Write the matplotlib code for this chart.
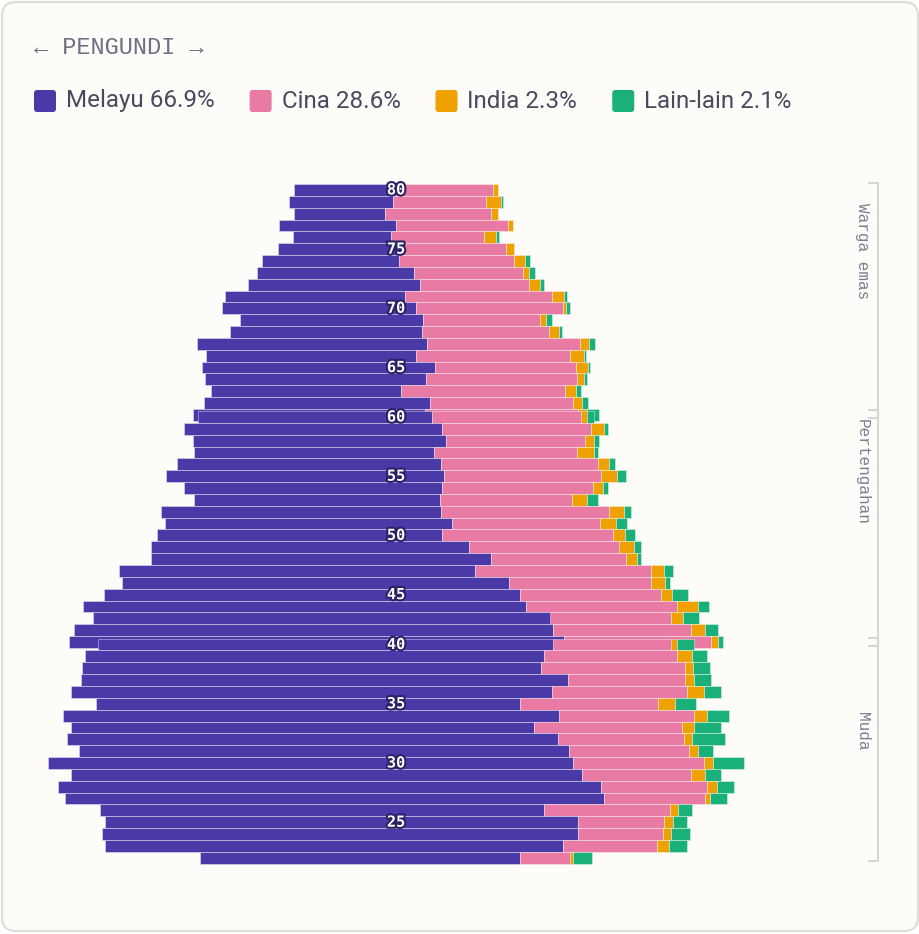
import matplotlib
matplotlib.use("Agg")
import matplotlib.pyplot as plt
import matplotlib.patheffects as pe
from matplotlib.patches import FancyBboxPatch

# umur pengundi, dari atas ke bawah
ages = list(range(80, 21, -1))

# lebar segmen setiap baris
melayu = [99.7, 104.0, 91.6, 117.0, 98.3, 121.0, 137.0, 157.6, 172.0, 179.7,
          194.0, 182.7, 192.0, 229.4, 210.3, 233.3, 221.3, 190.3, 226.0, 232.0,
          233.7, 258.3, 253.3, 240.3, 264.3, 278.3, 257.7, 246.6, 279.7, 287.3,
          285.6, 318.0, 340.3, 356.5, 387.3, 415.8, 443.2, 457.7, 478.6, 494.9,
          454.8, 458.6, 459.5, 487.0, 480.9, 424.2, 495.8, 463.2, 491.1, 489.3,
          524.6, 511.1, 542.8, 539.1, 444.1, 472.6, 475.8, 458.0, 319.8]
cina = [99.3, 93.3, 106.0, 112.0, 93.3, 107.3, 115.3, 109.0, 109.0, 147.3,
        147.0, 116.7, 127.6, 153.6, 154.0, 141.0, 150.7, 164.0, 142.7, 153.3,
        149.0, 148.4, 139.3, 143.3, 156.7, 157.3, 151.3, 132.0, 168.0, 147.4,
        170.4, 149.7, 135.5, 176.5, 142.0, 141.5, 150.8, 121.0, 138.8, 146.6,
        118.7, 133.1, 143.4, 117.3, 135.5, 137.8, 135.0, 148.0, 125.7, 120.6,
        131.8, 108.5, 105.7, 100.6, 125.7, 85.6, 85.6, 93.6, 49.4]
india = [4.7, 14.7, 7.0, 4.4, 11.4, 7.7, 10.4, 5.4, 11.0, 11.4,
         3.3, 6.6, 9.7, 9.0, 14.0, 12.0, 7.3, 11.0, 9.3, 8.7,
         6.0, 13.3, 8.7, 16.7, 11.0, 15.4, 10.0, 14.4, 14.7, 16.6,
         12.3, 15.0, 10.2, 12.5, 13.5, 11.2, 21.4, 11.2, 13.4, 7.0,
         5.6, 14.5, 8.4, 8.4, 16.7, 17.2, 13.5, 12.1, 8.9, 8.4,
         8.8, 14.4, 10.3, 5.6, 7.5, 9.8, 7.9, 12.1, 3.2]
lain = [0.0, 2.8, 0.0, 0.0, 3.8, 0.0, 5.3, 6.6, 3.2, 3.0,
        4.5, 5.2, 3.3, 5.4, 2.3, 2.3, 3.3, 5.3, 6.0, 12.0,
        7.3, 4.0, 5.3, 4.3, 6.8, 9.8, 4.7, 11.8, 7.3, 10.7,
        10.5, 6.7, 4.9, 9.5, 5.0, 15.5, 10.5, 16.5, 13.0, 5.2,
        16.9, 15.0, 17.3, 17.0, 16.9, 21.7, 21.6, 26.7, 32.8, 15.2,
        30.6, 16.0, 16.3, 17.0, 14.2, 13.3, 18.5, 18.3, 18.8]

series = [melayu, cina, india, lain]
legend_labels = ["Melayu 66.9%", "Cina 28.6%", "India 2.3%", "Lain-lain 2.1%"]
colors = ["#4a3aa8", "#e87aa4", "#eea100", "#1ab07a"]

groups = ["Warga emas", "Pertengahan", "Muda"]
group_ages = [(80, 61), (60, 41), (40, 22)]
group_shift = [0.0, -0.82, -1.6]      # kumpulan sedikit bertindih
label_offset = [1.6, 0.7, 6.2]        # kedudukan teks kumpulan

W, H = 920, 934
CX = 396          # paksi tengah piramid (px)
TOP = 184         # bahagian atas baris pertama (px)
ROW = 11.84       # tinggi satu baris (px)

fig = plt.figure(figsize=(W / 100, H / 100), dpi=100)
fig.patch.set_facecolor("white")

# lapisan latar: kad, tajuk, petunjuk (unit piksel)
bg = fig.add_axes([0, 0, 1, 1])
bg.set_xlim(0, W)
bg.set_ylim(H, 0)
bg.axis("off")
card = FancyBboxPatch((2, 2), W - 4, H - 5,
                      boxstyle="round,pad=0,rounding_size=14",
                      facecolor="#fdfcf8", edgecolor="#dedfd8", linewidth=1.6)
bg.add_patch(card)

bg.text(34, 47, "← PENGUNDI →", family="Liberation Mono", fontsize=17,
        color="#6b7083", ha="left", va="center")

renderer = fig.canvas.get_renderer()
x = 34
for lab, col in zip(legend_labels, colors):
    bg.add_patch(FancyBboxPatch((x, 90), 22, 22,
                                boxstyle="round,pad=0,rounding_size=3",
                                facecolor=col, edgecolor="none"))
    t = bg.text(x + 32, 101, lab, family="Roboto", fontsize=17.4,
                color="#464b5f", ha="left", va="center")
    bb = t.get_window_extent(renderer)
    x = bb.x1 + 35

# lapisan bar
ax = fig.add_axes([0, 0, 1, 1])
ax.set_xlim(-CX, W - CX)
ax.set_ylim((H - TOP) / ROW, -TOP / ROW)
ax.axis("off")
ax.patch.set_alpha(0)


def row_pos(age):
    for (a0, a1), s in zip(group_ages, group_shift):
        if a1 <= age <= a0:
            return (80 - age) + s


z = 2
for i, age in enumerate(ages):
    vals = [s[i] for s in series]
    total = sum(vals)
    left = -total / 2
    p = row_pos(age)
    for v, c in zip(vals, colors):
        if v > 0:
            ax.barh(p, v, left=left, height=1.0, align="edge", color=c,
                    edgecolor=(1, 1, 1, 0.45), linewidth=0.6, zorder=z)
        left += v
    z += 1

for age in range(80, 24, -5):
    ax.text(0, row_pos(age) + 0.5, str(age), ha="center", va="center",
            color="white", fontweight="bold", family="DejaVu Sans Mono",
            fontsize=11, zorder=200,
            path_effects=[pe.withStroke(linewidth=3, foreground="#2b2266")])

# kurungan kumpulan di kanan
bx = 878 - CX
for name, (a0, a1), off in zip(groups, group_ages, label_offset):
    top = row_pos(a0) - 0.05
    bot = row_pos(a1) + 0.8
    ax.plot([bx - 9, bx, bx, bx - 9], [top, top, bot, bot],
            color="#d6d6cf", linewidth=1.5, solid_joinstyle="miter", zorder=1)
    ax.text(862.5 - CX, row_pos(a0) + off, name, rotation=270,
            ha="center", va="top", family="Liberation Mono", fontsize=11.5,
            color="#7a7f90")

fig.savefig("out.png", dpi=100, facecolor=fig.get_facecolor())
